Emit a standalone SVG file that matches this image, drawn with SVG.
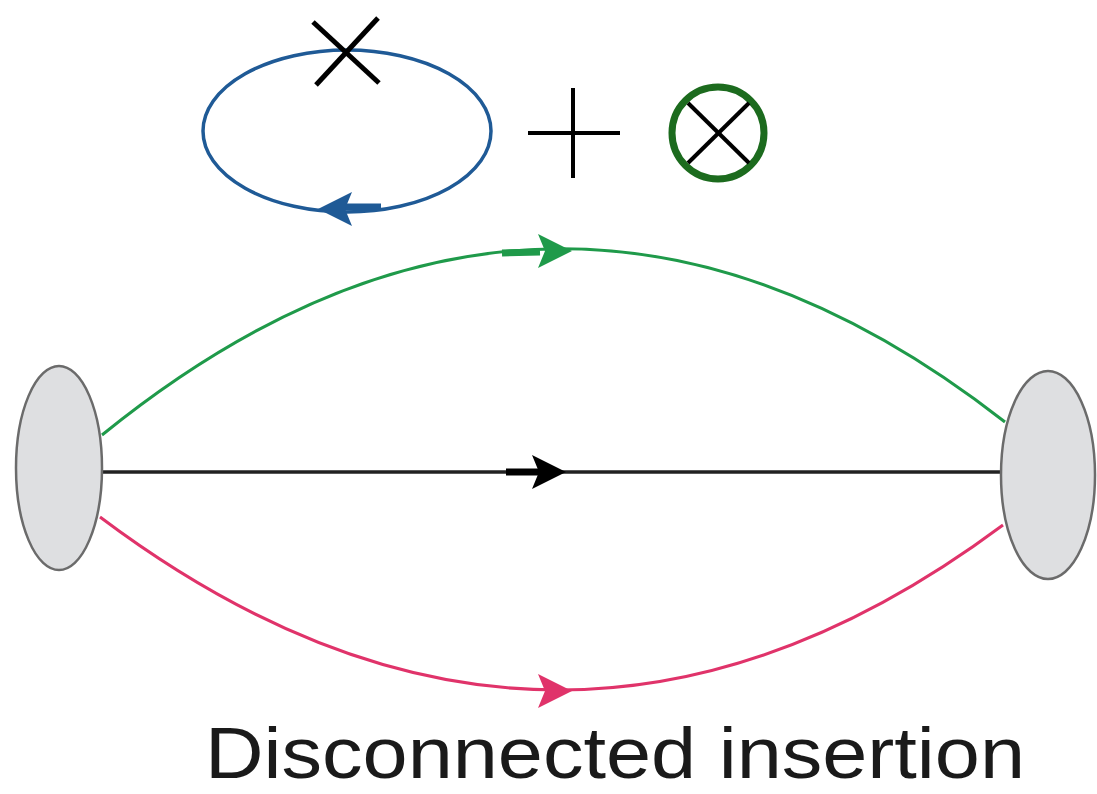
<svg xmlns="http://www.w3.org/2000/svg" width="1097" height="794" viewBox="0 0 1097 794">
<style>
.blob{fill:#dedfe1;stroke:#6b6b6b;stroke-width:2.5}
.ln{fill:none;stroke-width:3}
.x{stroke:#000;stroke-width:5;stroke-linecap:butt}
.lbl{font-family:"Liberation Sans",Arial,sans-serif;font-size:72px;fill:#1a1a1a}
</style>
<defs>
<path id="ah" d="M0,0 L-34,-17 L-27,0 L-34,17 Z"/>
</defs>
<rect width="1097" height="794" fill="#fff"/>
<g id="loop">
<ellipse cx="347" cy="131" rx="144" ry="81" fill="none" stroke="#1f5a96" stroke-width="3.5"/>
<line x1="344" y1="207" x2="381" y2="207" stroke="#1f5a96" stroke-width="7"/>
<use href="#ah" transform="translate(318,209) rotate(180)" fill="#1f5a96"/>
<line class="x" x1="313" y1="22" x2="379" y2="83"/>
<line class="x" x1="378" y1="18" x2="316" y2="85"/>
</g>
<g id="plus">
<line x1="528" y1="133" x2="620" y2="133" stroke="#000" stroke-width="4"/>
<line x1="573" y1="88" x2="573" y2="178" stroke="#000" stroke-width="4"/>
</g>
<g id="otimes">
<circle cx="718" cy="133" r="46" fill="none" stroke="#1c6b1e" stroke-width="7"/>
<line x1="688" y1="103" x2="749" y2="163" stroke="#000" stroke-width="4"/>
<line x1="749" y1="103" x2="688" y2="163" stroke="#000" stroke-width="4"/>
</g>
<g id="connectors">
<path class="ln" d="M102,435 Q553,69 1005,422" stroke="#1f9a4a"/>
<line x1="502" y1="253" x2="540" y2="252" stroke="#1f9a4a" stroke-width="7"/>
<use href="#ah" transform="translate(572,251)" fill="#1f9a4a"/>
<line x1="98" y1="472" x2="1002" y2="472" stroke="#222" stroke-width="3.5"/>
<line x1="506" y1="472" x2="540" y2="472" stroke="#000" stroke-width="7"/>
<use href="#ah" transform="translate(566,472)" fill="#000"/>
<path class="ln" d="M100,517 Q555,859 1003,525" stroke="#e0336a"/>
<use href="#ah" transform="translate(572,691)" fill="#e0336a"/>
</g>
<g id="left-blob"><ellipse class="blob" cx="59" cy="468" rx="43" ry="102"/></g>
<g id="right-blob"><ellipse class="blob" cx="1048" cy="475" rx="47" ry="104"/></g>
<text class="lbl" x="205" y="778" textLength="820" lengthAdjust="spacingAndGlyphs">Disconnected insertion</text>
</svg>
